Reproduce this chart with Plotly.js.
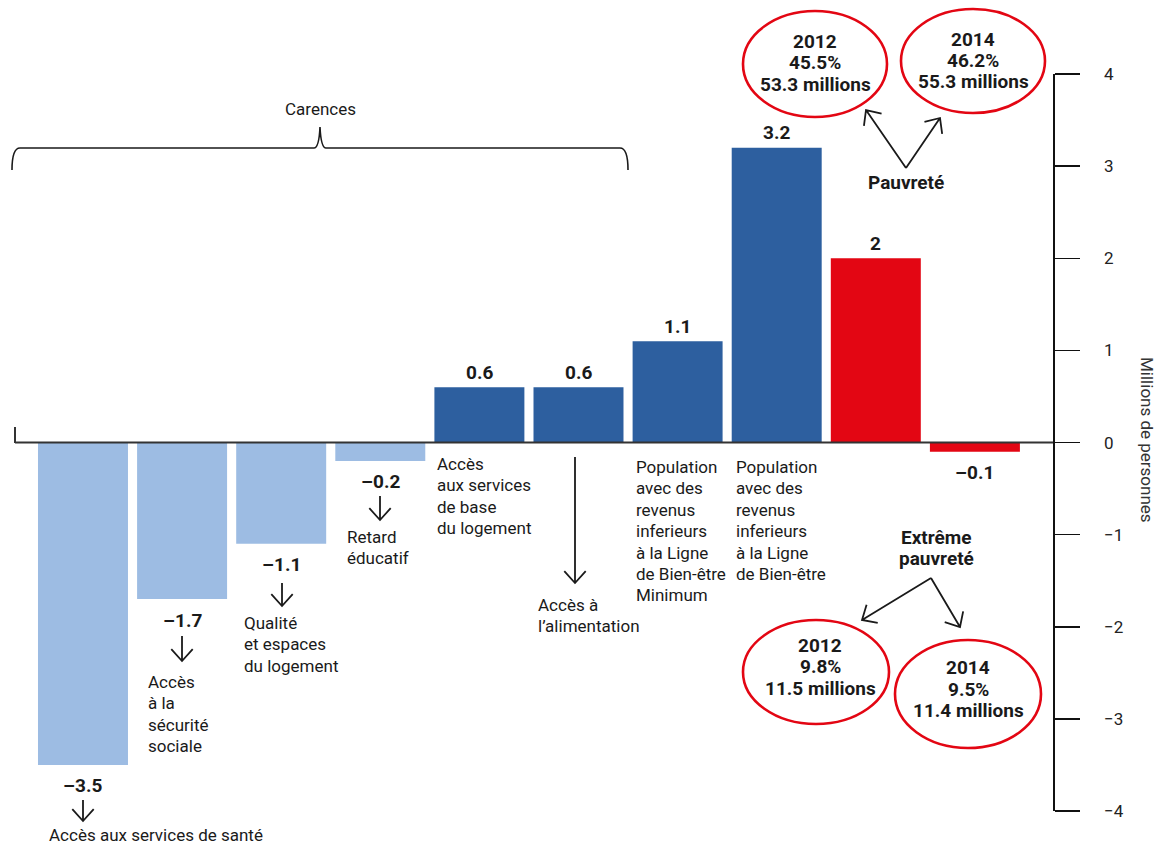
<!DOCTYPE html>
<html><head><meta charset="utf-8">
<script src="https://cdn.plot.ly/plotly-3.0.1.min.js"></script>
<style>html,body{margin:0;padding:0;background:#fff}#chart{width:1156px;height:848px}</style>
</head><body><div id="chart"></div>
<script>
// ---------- DATA ----------
const categories = [
  'Accès aux services de santé',
  'Accès\nà la\nsécurité\nsociale',
  'Qualité\net espaces\ndu logement',
  'Retard\néducatif',
  'Accès\naux services\nde base\ndu logement',
  'Accès à\nl’alimentation',
  'Population\navec des\nrevenus\ninferieurs\nà la Ligne\nde Bien-être\nMinimum',
  'Population\navec des\nrevenus\ninferieurs\nà la Ligne\nde Bien-être',
  'Pauvreté',
  'Extrême\npauvreté'
];
const changes = [-3.5, -1.7, -1.1, -0.2, 0.6, 0.6, 1.1, 3.2, 2, -0.1];
const groupLabel = 'Carences';
const yTickValues = [-4, -3, -2, -1, 0, 1, 2, 3, 4];
const yTitle = 'Millions de personnes';
const years = ['2012', '2014'];
const povertyPct = [45.5, 46.2];
const povertyMillions = [53.3, 55.3];
const extremePct = [9.8, 9.5];
const extremeMillions = [11.5, 11.4];

// ---------- STYLE / LAYOUT ----------
const C_LIGHT = '#9dbce3', C_DARK = '#2d5f9f', C_RED = '#e30613', INK = '#1a1a1a';
const barColors = [C_LIGHT, C_LIGHT, C_LIGHT, C_LIGHT, C_DARK, C_DARK, C_DARK, C_DARK, C_RED, C_RED];
const FONT = 'Roboto, "Liberation Sans", Arial, sans-serif';
const W = 1156, H = 848;
const L = 15, R = 1053, T = 74, B = 811;
const px = x => (x - L) / (R - L);
const py = y => (B - y) / (B - T);
const xNames = categories.map(c => c.replace(/\n/g, ' '));

// label placement (pixel): left x / first line centre y
const labelPlace = [
  {x: 47, y: 835}, {x: 146, y: 682}, {x: 242, y: 623}, {x: 345, y: 537},
  {x: 435, y: 464}, {x: 536, y: 605}, {x: 634, y: 467}, {x: 734, y: 467},
  {x: 906, y: 182, c: true}, {x: 936, y: 537, c: true}
];
const LINE = 21.4;

const annotations = [];
const shapes = [];

// value labels
changes.forEach((v, i) => {
  annotations.push({
    xref: 'x', yref: 'y', x: xNames[i], y: v,
    text: v < 0 ? '\u2013' + Math.abs(v) : String(v),
    yshift: v > 0 ? 15 : -21, showarrow: false,
    font: {family: FONT, size: 19, color: INK, weight: 'bold'}
  });
});

// category labels
categories.forEach((c, i) => {
  const p = labelPlace[i];
  c.split('\n').forEach((line, k) => {
    annotations.push({
      xref: 'paper', yref: 'paper', x: px(p.x), y: py(p.y + k * (p.c ? 21 : LINE)),
      xanchor: p.c ? 'center' : 'left', yanchor: 'middle', showarrow: false,
      text: p.c ? '<b>' + line + '</b>' : line,
      font: {family: FONT, size: p.c ? 19 : 17, color: INK}
    });
  });
});

// y tick labels (placed beyond the long outside ticks)
yTickValues.forEach(v => {
  annotations.push({xref: 'paper', yref: 'y', x: px(1102), y: v, xanchor: 'left', yanchor: 'middle',
    showarrow: false, text: v < 0 ? '\u2212' + Math.abs(v) : String(v),
    font: {family: FONT, size: 17, color: '#222'}});
});

// group label + brace
annotations.push({xref: 'paper', yref: 'paper', x: px(320), y: py(109), xanchor: 'center', yanchor: 'middle',
  showarrow: false, text: groupLabel, font: {family: FONT, size: 17, color: INK}});
function P(x, y) { return px(x).toFixed(5) + ',' + py(y).toFixed(5); }
shapes.push({type: 'path', xref: 'paper', yref: 'paper', layer: 'above',
  path: 'M' + P(12, 170) + ' Q' + P(12, 148) + ' ' + P(20, 148) + ' L' + P(314, 148) +
        ' Q' + P(319, 148) + ' ' + P(320, 127) + ' Q' + P(321, 148) + ' ' + P(326, 148) +
        ' L' + P(620, 148) + ' Q' + P(628, 148) + ' ' + P(628, 170),
  line: {color: INK, width: 1.6}});

// arrows
function arrow(x1, y1, x2, y2) {
  const dx = x2 - x1, dy = y2 - y1, len = Math.hypot(dx, dy);
  const ux = dx / len, uy = dy / len, A = 16, th = 42 * Math.PI / 180;
  const rot = (a) => [ux * Math.cos(a) - uy * Math.sin(a), ux * Math.sin(a) + uy * Math.cos(a)];
  const r1 = rot(th), r2 = rot(-th);
  const a1 = [x2 - A * r1[0], y2 - A * r1[1]], a2 = [x2 - A * r2[0], y2 - A * r2[1]];
  shapes.push({type: 'path', xref: 'paper', yref: 'paper', layer: 'above',
    path: 'M' + P(x1, y1) + ' L' + P(x2, y2) + ' M' + P(a1[0], a1[1]) + ' L' + P(x2, y2) + ' L' + P(a2[0], a2[1]),
    line: {color: INK, width: 1.8}});
}
arrow(83, 800, 83, 821);
arrow(182, 636, 182, 661);
arrow(282, 583, 282, 606);
arrow(380, 496, 380, 520);
arrow(575, 457, 575, 583);
arrow(906, 168, 866, 110);
arrow(906, 168, 940, 118);
arrow(931, 578, 862, 620);
arrow(931, 578, 960, 627);

// zero line + left tick
shapes.push({type: 'line', xref: 'paper', yref: 'y', x0: 0, x1: 1, y0: 0, y1: 0, layer: 'above',
  line: {color: '#333', width: 2}});
shapes.push({type: 'line', xref: 'paper', yref: 'paper', x0: 0, x1: 0, y0: py(427), y1: py(443), layer: 'above',
  line: {color: '#333', width: 2}});

// ellipses with text
const bubbles = [
  {cx: 815, cy: 64, rx: 72, ry: 53, tx: 815, ty: [42, 63, 84], yr: years[0], pct: povertyPct[0], m: povertyMillions[0]},
  {cx: 973, cy: 61, rx: 72, ry: 52, tx: 973, ty: [40, 61, 82], yr: years[1], pct: povertyPct[1], m: povertyMillions[1]},
  {cx: 816, cy: 672, rx: 73, ry: 52, tx: 820, ty: [645, 666, 688], yr: years[0], pct: extremePct[0], m: extremeMillions[0]},
  {cx: 968, cy: 694, rx: 73, ry: 54, tx: 968, ty: [667, 689, 710], yr: years[1], pct: extremePct[1], m: extremeMillions[1]}
];
bubbles.forEach(b => {
  shapes.push({type: 'circle', xref: 'paper', yref: 'paper', layer: 'above',
    x0: px(b.cx - b.rx), x1: px(b.cx + b.rx), y0: py(b.cy + b.ry), y1: py(b.cy - b.ry),
    line: {color: C_RED, width: 2.6}});
  [b.yr, b.pct + '%', b.m + ' millions'].forEach((t, k) => {
    annotations.push({xref: 'paper', yref: 'paper', x: px(b.tx), y: py(b.ty[k]), xanchor: 'center', yanchor: 'middle',
      showarrow: false, text: '<b>' + t + '</b>', font: {family: FONT, size: 19, color: INK}});
  });
});

// y title
annotations.push({xref: 'paper', yref: 'paper', x: px(1147), y: py(440), xanchor: 'center', yanchor: 'middle',
  showarrow: false, textangle: 90, text: yTitle, font: {family: FONT, size: 17, color: '#333'}});

const trace = {
  type: 'bar', x: xNames, y: changes,
  marker: {color: barColors, line: {width: 0}},
  hoverinfo: 'none', cliponaxis: false
};

const layout = {
  width: W, height: H,
  margin: {l: L, r: W - R, t: T, b: H - B, pad: 0},
  paper_bgcolor: '#fff', plot_bgcolor: '#fff',
  showlegend: false, bargap: 0.092,
  font: {family: FONT, color: INK},
  xaxis: {visible: false, range: [-0.686, 9.788], fixedrange: true},
  yaxis: {side: 'right', range: [-4, 4], tickvals: yTickValues, ticks: 'outside', ticklen: 25,
    tickwidth: 1.5, tickcolor: '#111', showline: true, linecolor: '#111', linewidth: 1.5,
    showgrid: false, zeroline: false, showticklabels: false, fixedrange: true},
  shapes: shapes, annotations: annotations, hovermode: false
};

Plotly.newPlot('chart', [trace], layout, {displayModeBar: false, staticPlot: true});
</script>
</body></html>
